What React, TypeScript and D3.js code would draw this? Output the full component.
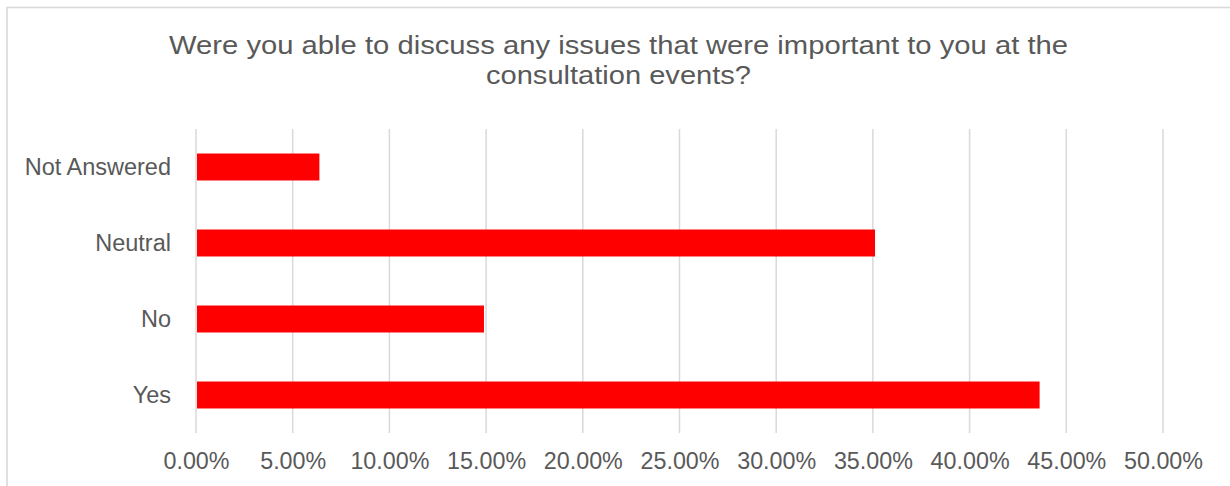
import { useEffect, useRef } from "react";
import * as d3 from "d3";

const TITLE_LINES = [
  "Were you able to discuss any issues that were important to you at the",
  "consultation events?",
];
// measured widths of each title line in the reference
const TITLE_WIDTHS = [899, 265];

const CATEGORIES = ["Not Answered", "Neutral", "No", "Yes"];
const VALUES = [0.0638, 0.3511, 0.1489, 0.4362];
const TICKS = [0, 0.05, 0.1, 0.15, 0.2, 0.25, 0.3, 0.35, 0.4, 0.45, 0.5];

const WIDTH = 1230;
const HEIGHT = 486;

export default function App() {
  const svgRef = useRef<SVGSVGElement>(null);

  useEffect(() => {
    if (!svgRef.current) return;
    const svg = d3.select(svgRef.current);
    svg.selectAll("*").remove();

    const font = "'Liberation Sans', Arial, sans-serif";
    const textColor = "#595959";
    const gridColor = "#d9d9d9";

    // chart border (only top/left visible in frame)
    svg
      .append("rect")
      .attr("x", 7)
      .attr("y", 7.5)
      .attr("width", WIDTH + 10)
      .attr("height", HEIGHT + 10)
      .attr("fill", "#fff")
      .attr("stroke", gridColor)
      .attr("stroke-width", 1.6);

    // title - glyphs stretched a bit, like the original export
    svg
      .append("g")
      .selectAll("text")
      .data(TITLE_LINES)
      .enter()
      .append("text")
      .attr("x", 618.5)
      .attr("y", (_d, i) => 53.5 + i * 30)
      .attr("text-anchor", "middle")
      .attr("textLength", (_d, i) => TITLE_WIDTHS[i])
      .attr("lengthAdjust", "spacingAndGlyphs")
      .attr("fill", textColor)
      .style("font-family", font)
      .style("font-size", "25.5px")
      .text((d) => d);

    const x = d3.scaleLinear().domain([0, 0.5]).range([196, 1163]);
    const y = d3
      .scaleBand<string>()
      .domain(CATEGORIES)
      .range([129, 433])
      .paddingInner(0.645)
      .paddingOuter(0.3225);

    // gridlines
    svg
      .append("g")
      .selectAll("line")
      .data(TICKS)
      .enter()
      .append("line")
      .attr("x1", (d) => x(d))
      .attr("x2", (d) => x(d))
      .attr("y1", 129)
      .attr("y2", 433)
      .attr("stroke", gridColor)
      .attr("stroke-width", 1.5);

    // bars
    svg
      .append("g")
      .selectAll("rect")
      .data(CATEGORIES)
      .enter()
      .append("rect")
      .attr("x", x(0) + 1)
      .attr("y", (d) => y(d) ?? 0)
      .attr("width", (_d, i) => x(VALUES[i]) - x(0) - 1)
      .attr("height", y.bandwidth())
      .attr("fill", "#ff0000");

    // x axis labels
    const xAxis = svg
      .append("g")
      .attr("transform", "translate(0,450)")
      .call(
        d3
          .axisBottom(x)
          .tickValues(TICKS)
          .tickSize(0)
          .tickFormat((d) => d3.format(".2%")(d as number))
      );
    xAxis.select(".domain").remove();
    xAxis
      .selectAll("text")
      .attr("y", 19)
      .attr("dy", "0")
      .attr("fill", textColor)
      .style("font-family", font)
      .style("font-size", "23.3px");

    // category labels
    svg
      .append("g")
      .selectAll("text")
      .data(CATEGORIES)
      .enter()
      .append("text")
      .attr("x", 171)
      .attr("y", (d) => (y(d) ?? 0) + y.bandwidth() / 2)
      .attr("dy", "0.35em")
      .attr("text-anchor", "end")
      .attr("fill", textColor)
      .style("font-family", font)
      .style("font-size", "23.5px")
      .text((d) => d);
  }, []);

  return (
    <svg
      ref={svgRef}
      width={WIDTH}
      height={HEIGHT}
      style={{ position: "absolute", left: 0, top: 0, background: "#fff" }}
    />
  );
}
